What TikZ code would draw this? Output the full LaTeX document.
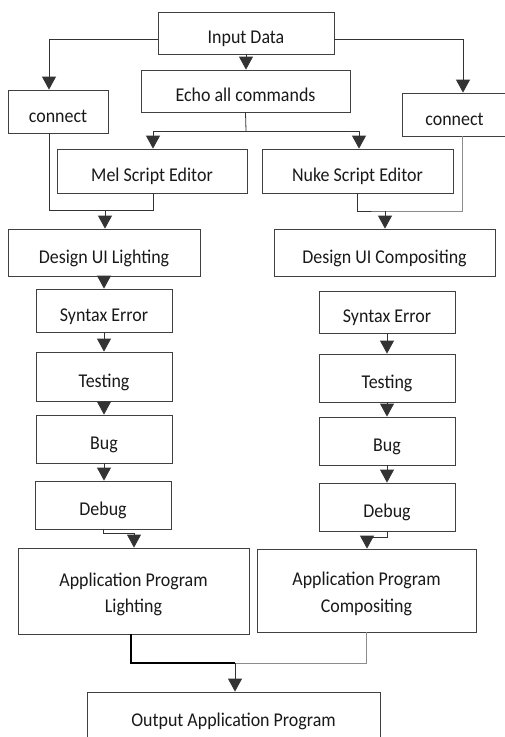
\documentclass[tikz,border=0pt]{standalone}
\usepackage{fontspec}
\setmainfont[FakeStretch=0.92]{Carlito}
\usetikzlibrary{arrows.meta}
\begin{document}
\begin{tikzpicture}[x=1pt,y=-1pt,
  box/.style={draw=black!75,line width=0.8pt,rectangle,inner sep=0pt,align=center,
    text=black!90,font=\fontsize{19.5}{26.5}\selectfont},
  one/.style={box,text height=21pt,text depth=0pt},
  two/.style={box},
  conn/.style={draw=black!80,line width=0.8pt},
  lconn/.style={draw=black!45,line width=0.8pt},
  arr/.style={conn,-{Triangle[width=14pt,length=13pt]}}]
\useasboundingbox (0,0) rectangle (505,737);
\clip (0,0) rectangle (505,737);
% boxes
\node[one,minimum width=176pt,minimum height=42pt] (inp) at (246,33) {Input Data};
\node[one,minimum width=209pt,minimum height=42pt] (echo) at (245.5,91) {Echo all commands};
\node[one,minimum width=100pt,minimum height=43pt] (conL) at (58,111.5) {connect};
\node[one,minimum width=105pt,minimum height=43pt] (conR) at (454.5,114.5) {connect};
\node[one,minimum width=190pt,minimum height=44pt] (mel) at (152,171) {Mel Script Editor};
\node[one,minimum width=191pt,minimum height=44pt] (nuke) at (357.5,171) {Nuke Script Editor};
\node[one,minimum width=192pt,minimum height=47pt] (dL) at (104,252.5) {Design UI Lighting};
\node[one,minimum width=221pt,minimum height=47pt] (dR) at (384.5,252.5) {Design UI Compositing};
\node[one,minimum width=136pt,minimum height=43pt] (sL) at (104,310.5) {Syntax Error};
\node[one,minimum width=136pt,minimum height=49pt] (tL) at (104,376.5) {Testing};
\node[one,minimum width=136pt,minimum height=48pt] (bL) at (104,439) {Bug};
\node[one,minimum width=136pt,minimum height=48pt] (gL) at (103,505) {Debug};
\node[two,minimum width=231pt,minimum height=86pt] (aL) at (133.5,591) {\rule{0pt}{20pt}Application Program\\Lighting};
\node[one,minimum width=136pt,minimum height=42pt] (sR) at (387,312) {Syntax Error};
\node[one,minimum width=136pt,minimum height=48pt] (tR) at (387,378) {Testing};
\node[one,minimum width=136pt,minimum height=48pt] (bR) at (387,441) {Bug};
\node[one,minimum width=136pt,minimum height=48pt] (gR) at (387,507) {Debug};
\node[two,minimum width=219pt,minimum height=83pt] (aR) at (366.5,590.5) {\rule{0pt}{20pt}Application Program\\Compositing};
\node[one,minimum width=293pt,minimum height=47pt] (out) at (233.5,715.5) {Output Application Program};
% coordinates
\coordinate (eb) at (246,131);
\coordinate (jl) at (105,210);
\coordinate (jr) at (385,211);
\coordinate (dl1) at (134,533);
\coordinate (dr1) at (367,537);
\coordinate (oj) at (235,663);
% connectors
\draw[arr] ([yshift=-6pt]inp.west) -| ([xshift=-9pt]conL.north);
\draw[arr] ([yshift=-6pt]inp.east) -| ([xshift=8.5pt]conR.north);
\draw[arr] (inp.south) -- (inp.south |- echo.north);
\draw[conn] (echo.south) -- (eb);
\draw[arr] (eb) -| ([xshift=1pt]mel.north);
\draw[arr] (eb) -| ([xshift=1.5pt]nuke.north);
\draw[conn] ([xshift=-9pt]conL.south) |- ([xshift=1pt,yshift=-17pt]mel.south) -- ([xshift=1pt]mel.south);
\draw[arr] (jl) -- (jl |- dL.north);
\draw[conn] ([xshift=-0.5pt]nuke.south) |- (jr) -- ++(77,0);
\draw[lconn] ([xshift=7.5pt]conR.south) |- (jr);
\draw[arr] (jr) -- (jr |- dR.north);
\draw[arr] (dL.south) -- (sL.north);
\draw[arr] (sL.south) -- (tL.north);
\draw[arr] (tL.south) -- (bL.north);
\draw[arr] (bL.south) -- (bL.south |- gL.north);
\draw[arr] (sR.south) -- (tR.north);
\draw[arr] (tR.south) -- (bR.north);
\draw[arr] (bR.south) -- (gR.north);
\draw[arr] (gL.south) |- (dl1) -- (dl1 |- aL.north);
\draw[arr] (gR.south) |- (dr1) -- (dr1 |- aR.north);
\draw[conn,line width=1.2pt,draw=black] ([xshift=-2.5pt]aL.south) |- (oj);
\draw[lconn] (aR.south) |- (oj);
\draw[arr] (oj) -- (oj |- out.north);
\end{tikzpicture}
\end{document}
